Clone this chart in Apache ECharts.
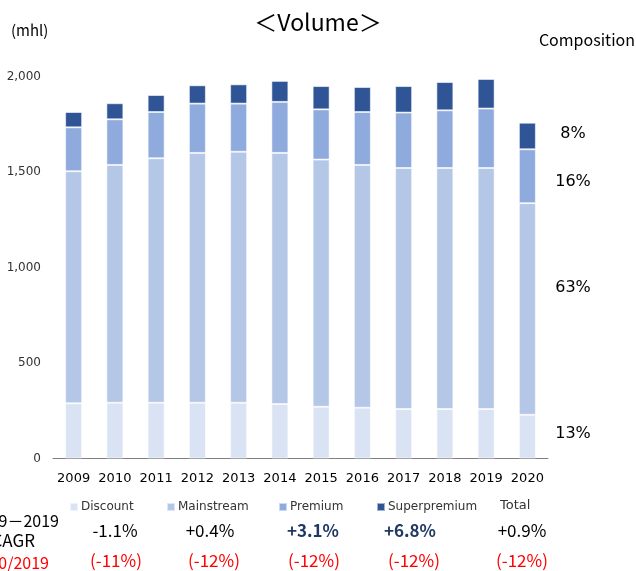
<!DOCTYPE html>
<html>
<head>
<meta charset="utf-8">
<script src="https://cdn.jsdelivr.net/npm/echarts@6/dist/echarts.min.js"></script>
<style>
  html, body { margin: 0; padding: 0; background: #fff; }
  #chart { width: 636px; height: 571px; }
</style>
</head>
<body>
<div id="chart"></div>
<script>
// Beer volume by price segment (million hectolitres)
const years = ['2009','2010','2011','2012','2013','2014','2015','2016','2017','2018','2019','2020'];
const discount     = [289, 292, 292, 292, 292, 285, 271, 266, 259, 259, 259, 229];
const mainstream   = [1215, 1245, 1280, 1308, 1314, 1315, 1294, 1271, 1262, 1262, 1262, 1108];
const premium      = [230, 239, 242, 258, 252, 267, 263, 277, 290, 302, 311, 282];
const superpremium = [80, 84, 89, 96, 101, 110, 122, 131, 139, 148, 155, 139];

const segmentNames  = ['Discount', 'Mainstream', 'Premium', 'Superpremium'];
const segmentColors = ['#dae3f3', '#b4c7e7', '#8faadc', '#2f5597'];

// Composition of 2020 volume, bottom to top
const composition = ['13%', '63%', '16%', '8%'];
// 2009-2019 CAGR and 2020 vs 2019 change, per segment plus total
const cagr   = ['-1.1%', '+0.4%', '+3.1%', '+6.8%', '+0.9%'];
const yoy    = ['(-11%)', '(-12%)', '(-12%)', '(-12%)', '(-12%)'];
const cagrBold = [false, false, true, true, false];

const yTicks = { min: 0, max: 2000, interval: 500 };

const chart = echarts.init(document.getElementById('chart'));

const seriesData = [discount, mainstream, premium, superpremium];
const series = segmentNames.map((name, i) => ({
  name: name,
  type: 'bar',
  stack: 'volume',
  barWidth: 17,
  data: seriesData[i],
  itemStyle: { color: segmentColors[i], borderColor: 'rgba(255,255,255,0.55)', borderWidth: 1 },
  emphasis: { disabled: true }
}));

// legend component padding is 5px, so offsets sit 5px left of the swatch
const legendX = [64, 161, 273, 371];
const legends = segmentNames.map((name, i) => ({
  data: [name],
  left: legendX[i],
  top: 496,
  itemWidth: 8,
  itemHeight: 8,
  itemGap: 4,
  icon: 'rect',
  textStyle: { fontFamily: 'DejaVu Sans', fontSize: 12, color: '#333', padding: [0, 0, 0, -2] },
  selectedMode: false
}));

const cagrX = [115, 210, 313, 410, 522];
const yoyX  = [116, 214, 314, 414, 522];
const compY = [434, 288, 182, 134];

const rowFont = 'Noto Sans CJK JP';
const graphics = [
  { type: 'text', left: 11, top: 23, style: { text: '(mhl)', font: '15px "Noto Sans CJK JP"', fill: '#000' } },
  { type: 'text', right: 1, top: 32, style: { text: 'Composition', font: '16px "Noto Sans CJK JP"', fill: '#000' } },
  { type: 'text', x: 500, y: 506, style: { text: 'Total', font: '13px "DejaVu Sans"', fill: '#333', verticalAlign: 'middle' } },
  { type: 'text', x: 59, y: 521, style: { text: '2009－2019', font: '16px "Noto Sans CJK JP"', fill: '#000', align: 'right', verticalAlign: 'middle' } },
  { type: 'text', x: 35, y: 541, style: { text: 'CAGR', font: '17px "Noto Sans CJK JP"', fill: '#000', align: 'right', verticalAlign: 'middle' } },
  { type: 'text', x: 49, y: 563, style: { text: '2020/2019', font: '16px "Noto Sans CJK JP"', fill: '#ff0000', align: 'right', verticalAlign: 'middle' } }
];
cagr.forEach((t, i) => graphics.push({
  type: 'text', x: cagrX[i], y: 531,
  style: {
    text: t, align: 'center', verticalAlign: 'middle',
    font: (cagrBold[i] ? 'bold ' : '') + '17px "' + rowFont + '"',
    fill: cagrBold[i] ? '#1f3864' : '#000'
  }
}));
yoy.forEach((t, i) => graphics.push({
  type: 'text', x: yoyX[i], y: 561,
  style: { text: t, align: 'center', verticalAlign: 'middle', font: '17px "' + rowFont + '"', fill: '#ff0000' }
}));
composition.forEach((t, i) => graphics.push({
  type: 'text', x: 573, y: compY[i],
  style: { text: t, align: 'center', verticalAlign: 'middle', font: '16px "DejaVu Sans"', fill: '#000' }
}));

chart.setOption({
  animation: false,
  title: {
    text: '＜Volume＞',
    left: 'center',
    top: 6,
    textStyle: { fontFamily: 'Noto Sans CJK JP', fontSize: 23, fontWeight: 'normal', color: '#000' }
  },
  legend: legends,
  grid: { left: 53, right: 88, top: 76.5, bottom: 112.5, containLabel: false },
  xAxis: {
    type: 'category',
    data: years,
    axisLine: { lineStyle: { color: '#808080', width: 1 } },
    axisTick: { show: false },
    axisLabel: { interval: 0, fontFamily: 'DejaVu Sans', fontSize: 13, color: '#000', margin: 14 }
  },
  yAxis: {
    type: 'value',
    min: yTicks.min,
    max: yTicks.max,
    interval: yTicks.interval,
    axisLine: { show: false },
    axisTick: { show: false },
    splitLine: { show: false },
    axisLabel: {
      fontFamily: 'DejaVu Sans', fontSize: 12, color: '#333', margin: 12,
      formatter: v => v.toLocaleString('en-US')
    }
  },
  series: series,
  graphic: graphics
});
</script>
</body>
</html>
